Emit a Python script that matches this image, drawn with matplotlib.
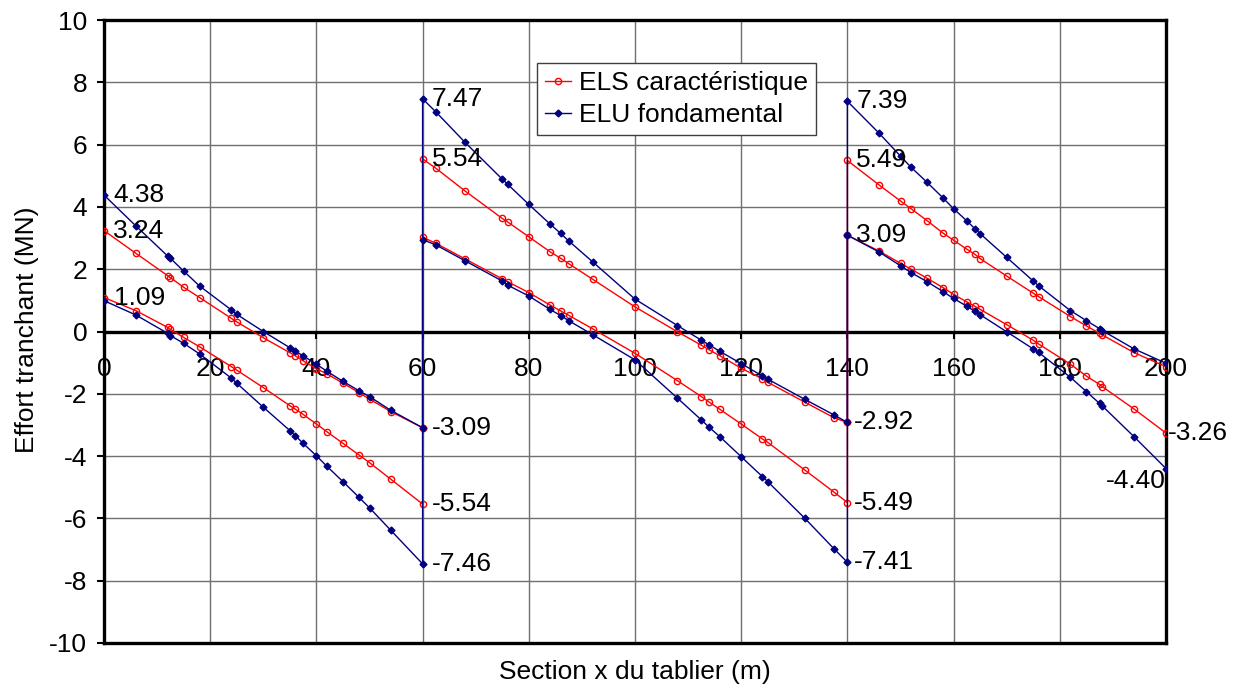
"""Effort tranchant le long du tablier : enveloppes ELS / ELU."""

import matplotlib

matplotlib.use("Agg")
import matplotlib.pyplot as plt
import numpy as np

plt.rcParams["font.family"] = ["Liberation Sans", "DejaVu Sans"]
plt.rcParams["axes.unicode_minus"] = False

# Sections (m) for each span
x_span1 = [0, 6, 12, 12.5, 15, 18, 24, 25, 30, 35, 36, 37.5, 40, 42, 45, 48, 50, 54, 60]
x_span2 = [60, 62.5, 68, 75, 76, 80, 84, 86, 87.5, 92, 100, 108, 112.5, 114, 116, 120,
           124, 125, 132, 137.5, 140]
x_span3 = [140, 146, 150, 152, 155, 158, 160, 162.5, 164, 165, 170, 175, 176, 182, 185,
           187.5, 188, 194, 200]

# ELS caractéristique (MN)
els_max_1 = [3.24, 2.51, 1.79, 1.73, 1.42, 1.09, 0.42, 0.31, -0.20, -0.68, -0.78, -0.94,
             -1.20, -1.36, -1.66, -1.96, -2.17, -2.57, -3.09]
els_min_1 = [1.09, 0.67, 0.13, 0.07, -0.19, -0.49, -1.13, -1.24, -1.80, -2.38, -2.49, -2.66,
             -2.97, -3.22, -3.59, -3.96, -4.21, -4.74, -5.54]
els_max_2 = [5.54, 5.24, 4.51, 3.63, 3.52, 3.04, 2.56, 2.35, 2.18, 1.68, 0.79, -0.01, -0.44,
             -0.59, -0.78, -1.18, -1.52, -1.63, -2.27, -2.77, -2.92]
els_min_2 = [3.03, 2.83, 2.33, 1.69, 1.60, 1.25, 0.85, 0.66, 0.52, 0.09, -0.70, -1.58, -2.09,
             -2.27, -2.50, -2.97, -3.45, -3.56, -4.45, -5.16, -5.49]
els_max_3 = [5.49, 4.70, 4.19, 3.94, 3.56, 3.16, 2.93, 2.64, 2.48, 2.34, 1.78, 1.23, 1.12,
             0.48, 0.18, -0.06, -0.11, -0.68, -1.13]
els_min_3 = [3.09, 2.58, 2.19, 2.00, 1.71, 1.41, 1.19, 0.95, 0.81, 0.71, 0.22, -0.28, -0.40,
             -1.05, -1.43, -1.70, -1.77, -2.49, -3.26]

# ELU fondamental (MN)
elu_max_1 = [4.38, 3.39, 2.42, 2.35, 1.94, 1.46, 0.69, 0.55, 0.00, -0.52, -0.63, -0.78,
             -1.05, -1.28, -1.60, -1.90, -2.09, -2.53, -3.09]
elu_min_1 = [0.99, 0.53, -0.06, -0.13, -0.38, -0.72, -1.50, -1.66, -2.43, -3.18, -3.34, -3.59,
             -3.99, -4.33, -4.82, -5.32, -5.66, -6.38, -7.46]
elu_max_2 = [7.47, 7.05, 6.07, 4.89, 4.73, 4.08, 3.45, 3.15, 2.91, 2.24, 1.04, 0.19, -0.28,
             -0.43, -0.64, -1.03, -1.43, -1.53, -2.18, -2.68, -2.92]
elu_min_2 = [2.95, 2.78, 2.27, 1.62, 1.49, 1.14, 0.71, 0.51, 0.35, -0.10, -0.91, -2.14, -2.84,
             -3.08, -3.38, -4.02, -4.66, -4.82, -6.00, -6.98, -7.41]
elu_max_3 = [7.39, 6.36, 5.63, 5.27, 4.79, 4.29, 3.94, 3.55, 3.30, 3.14, 2.38, 1.62, 1.47,
             0.67, 0.35, 0.09, 0.03, -0.56, -1.02]
elu_min_3 = [3.09, 2.55, 2.11, 1.89, 1.60, 1.28, 1.06, 0.81, 0.65, 0.54, -0.01, -0.56, -0.67,
             -1.47, -1.93, -2.31, -2.39, -3.38, -4.40]

x_all = x_span1 + x_span2 + x_span3
els_max = els_max_1 + els_max_2 + els_max_3
els_min = els_min_1 + els_min_2 + els_min_3
elu_max = elu_max_1 + elu_max_2 + elu_max_3
elu_min = elu_min_1 + elu_min_2 + elu_min_3

PX = 0.72  # points per pixel at dpi=100
FS = 19

fig = plt.figure(figsize=(12.36, 6.9), dpi=100)
ax = fig.add_axes([104 / 1236, 1 - 643 / 690, (1166 - 104) / 1236, (643 - 20) / 690])

red = "#FF0000"
navy = "#000080"

for y, lab in [(els_max, "ELS caractéristique"), (els_min, None)]:
    ax.plot(x_all, y, "-o", color=red, lw=1, ms=4.5, mfc="none", mew=1, label=lab, zorder=3)
for y, lab in [(elu_max, "ELU fondamental"), (elu_min, None)]:
    ax.plot(x_all, y, "-D", color=navy, lw=1, ms=3.5, label=lab, zorder=4)

# value labels: (x, y, dx px, dy px, ha, va)
n1, n2 = len(x_span1), len(x_span2)
labels = [
    (x_all[0], elu_max[0], 9, 0, "left", "center"),
    (x_all[0], els_max[0], 9, 0, "left", "center"),
    (x_all[0], els_min[0], 10, 0, "left", "center"),
    (x_all[n1 - 1], els_max[n1 - 1], 9, 0, "left", "center"),
    (x_all[n1 - 1], els_min[n1 - 1], 9, 0, "left", "center"),
    (x_all[n1 - 1], elu_min[n1 - 1], 9, 0, "left", "center"),
    (x_all[n1], elu_max[n1], 9, 0, "left", "center"),
    (x_all[n1], els_max[n1], 9, 0, "left", "center"),
    (x_all[n1 + n2 - 1], els_max[n1 + n2 - 1], 6, 0, "left", "center"),
    (x_all[n1 + n2 - 1], els_min[n1 + n2 - 1], 6, 0, "left", "center"),
    (x_all[n1 + n2 - 1], elu_min[n1 + n2 - 1], 6, 0, "left", "center"),
    (x_all[n1 + n2], elu_max[n1 + n2], 9, 0, "left", "center"),
    (x_all[n1 + n2], els_max[n1 + n2], 9, 0, "left", "center"),
    (x_all[n1 + n2], els_min[n1 + n2], 9, 0, "left", "center"),
    (x_all[-1], els_min[-1], 2, 0, "left", "center"),
    (x_all[-1], elu_min[-1], 0, 0, "right", "top"),
]
for x, y, dx, dy, ha, va in labels:
    ax.annotate(f"{y:.2f}", (x, y), xytext=(dx * PX, dy * PX), textcoords="offset points",
                ha=ha, va=va, fontsize=FS, zorder=6)

ax.set_xlim(0, 200)
ax.set_ylim(-10, 10)
ax.set_xticks(np.arange(0, 201, 20))
ax.set_yticks(np.arange(-10, 11, 2))
ax.grid(True, color="#707070", lw=1)
ax.set_axisbelow(True)

for side in ["left", "right", "top", "bottom"]:
    ax.spines[side].set_linewidth(2.4)
ax.spines["bottom"].set_position(("data", 0))
ax.axhline(-10, color="black", lw=2.4, clip_on=False, zorder=5)

ax.tick_params(axis="x", direction="out", length=6 * PX + 1, width=1.5, pad=13,
               labelsize=FS)
ax.tick_params(axis="y", direction="out", length=7 * PX, width=1.5, pad=7, labelsize=FS)

fig.text(635 / 1236, 1 - 672 / 690, "Section x du tablier (m)", ha="center", va="center",
         fontsize=FS)
fig.text(27 / 1236, 1 - 330 / 690, "Effort tranchant (MN)", ha="center", va="center",
         rotation=90, fontsize=FS)

leg = ax.legend(loc="upper left", bbox_to_anchor=(537 / 1236, 1 - 63 / 690),
                bbox_transform=fig.transFigure, fontsize=FS, numpoints=1,
                handlelength=1.0, handletextpad=0.3, labelspacing=0.3,
                borderpad=0.3, borderaxespad=0, fancybox=False, framealpha=1)
leg.get_frame().set_edgecolor("#404040")
leg.get_frame().set_linewidth(1)
leg.set_zorder(7)

fig.savefig("out.png", dpi=100)
